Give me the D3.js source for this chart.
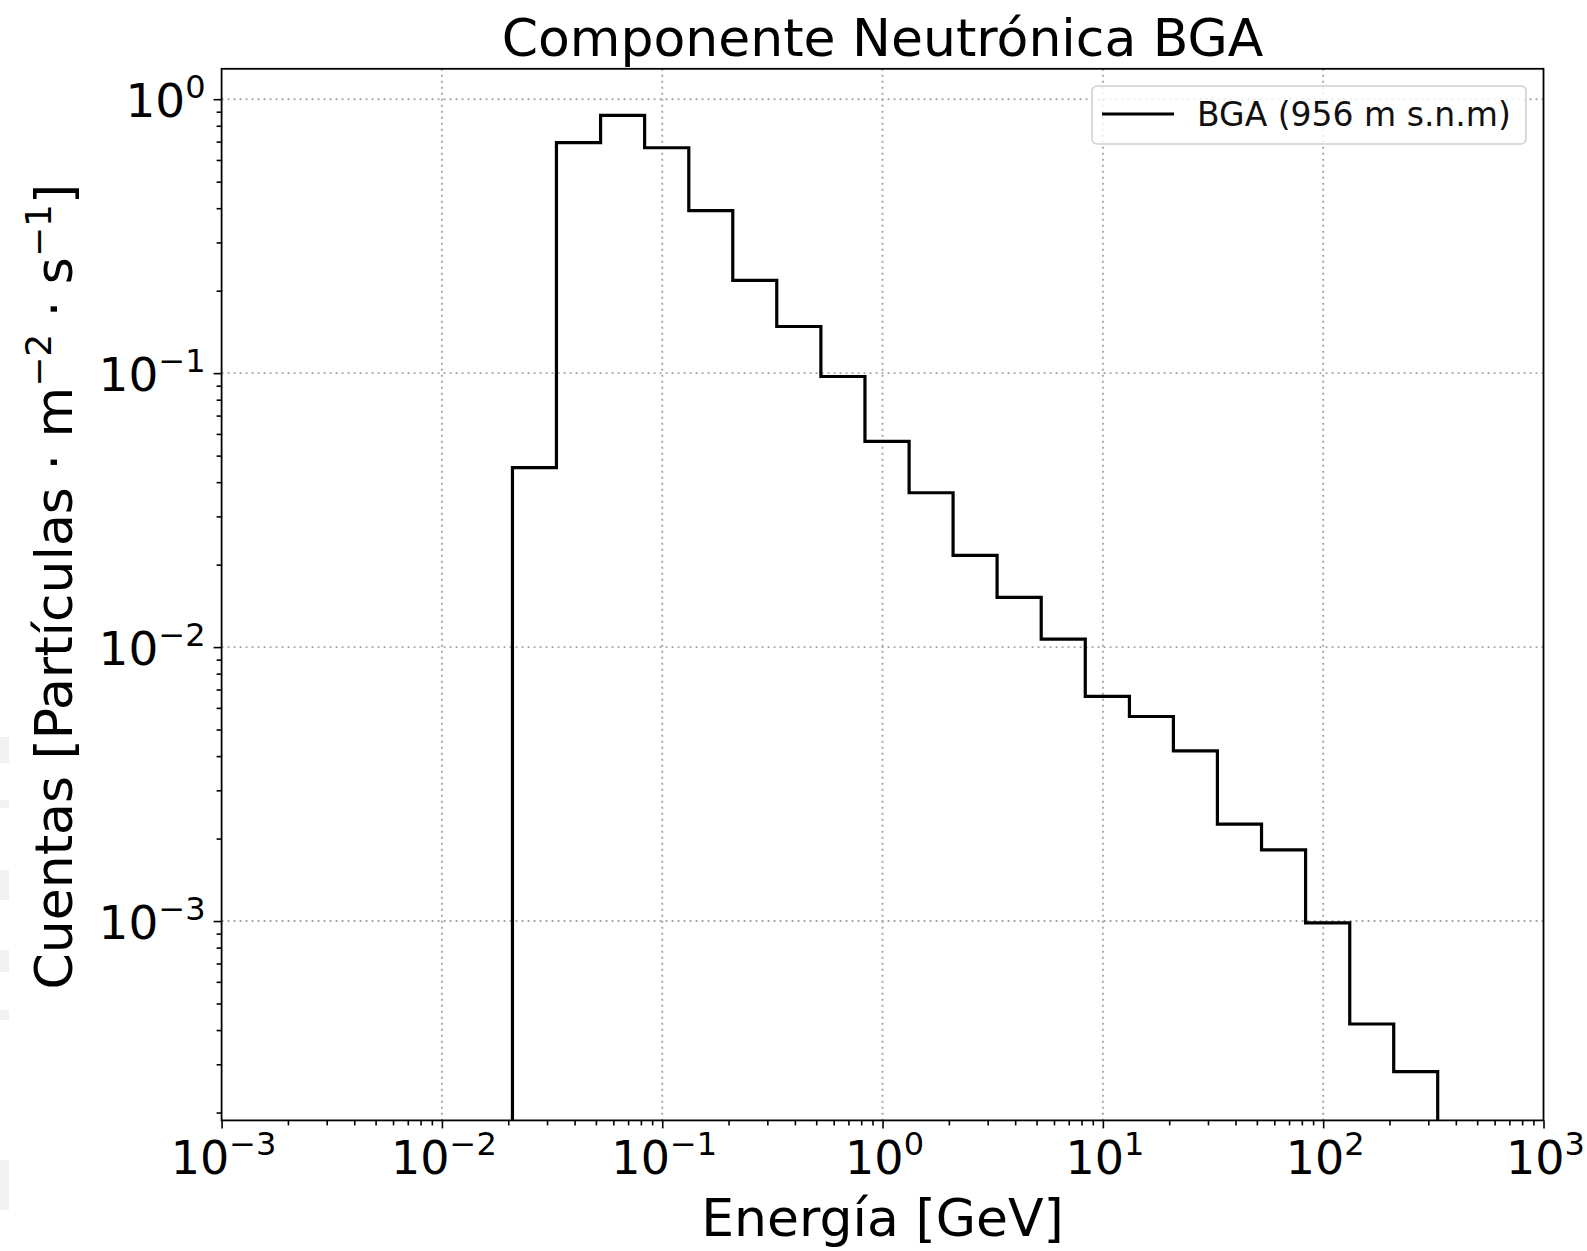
<!DOCTYPE html>
<html>
<head>
<meta charset="utf-8">
<script src="https://cdn.jsdelivr.net/npm/d3@7"></script>
<style>
    body { margin: 0; background: #fff; }
    svg { font-family: "DejaVu Sans", sans-serif; }
</style>
</head>
<body>
<svg id="chart" width="1587" height="1251"></svg>
<script>
// --- Données ---
const binEdges = [0.0209, 0.0331, 0.0525, 0.0832, 0.132, 0.209, 0.331, 0.525, 0.832, 1.32, 2.09,
    3.31, 5.25, 8.32, 13.2, 20.9, 33.1, 52.5, 83.2, 132, 209, 331];
const counts = [0.0452, 0.694, 0.873, 0.665, 0.392, 0.218, 0.148, 0.0972, 0.0564, 0.0366, 0.0216,
    0.0152, 0.0107, 0.00661, 0.00558, 0.00418, 0.00226, 0.00182, 0.000984, 0.000421, 0.000282];
const xTickExps = [-3, -2, -1, 0, 1, 2, 3];
const yTickExps = [0, -1, -2, -3];
const seriesLabel = "BGA (956 m s.n.m)";
const title = "Componente Neutrónica BGA";

// --- Géométrie ---
const svg = d3.select("#chart");
const plotL = 221.6, plotR = 1543.5, plotT = 68.8, plotB = 1120.4;

const x = d3.scaleLog().domain([1e-3, 1e3]).range([plotL, plotR]);
const y = d3.scaleLog().domain([1.872e-4, 1.291]).range([plotB, plotT]);

// Ticks mineurs 2..9 x 10^k
function minors(lo, hi) {
    const out = [];
    for (let k = Math.floor(Math.log10(lo)); k <= Math.ceil(Math.log10(hi)); k++) {
        for (let m = 2; m <= 9; m++) {
            const v = m * Math.pow(10, k);
            if (v > lo && v < hi) out.push(v);
        }
    }
    return out;
}

// Traces grises sur le bord gauche (artefact du scan)
svg.append("g").attr("fill", "#f1f1f1")
    .selectAll("rect").data([[737, 26], [800, 8], [870, 30], [950, 22], [1010, 10], [1160, 50]])
    .join("rect")
    .attr("x", 0).attr("width", 9).attr("y", d => d[0]).attr("height", d => d[1]);

// Grille pointillée
const grid = svg.append("g").attr("class", "grid")
    .attr("stroke", "#a4a4a4").attr("stroke-width", 1.9).attr("stroke-dasharray", "1.9,4.1");
grid.selectAll("line.gx").data(xTickExps.slice(1, -1)).join("line")
    .attr("x1", d => x(Math.pow(10, d))).attr("x2", d => x(Math.pow(10, d)))
    .attr("y1", plotT).attr("y2", plotB);
grid.selectAll("line.gy").data(yTickExps).join("line")
    .attr("y1", d => y(Math.pow(10, d))).attr("y2", d => y(Math.pow(10, d)))
    .attr("x1", plotL).attr("x2", plotR);

// Axes (ticks seulement, le cadre est dessiné à part)
svg.append("g").attr("transform", `translate(0,${plotB})`)
    .call(d3.axisBottom(x).tickValues(xTickExps.map(e => Math.pow(10, e))).tickFormat("").tickSize(8).tickSizeOuter(0));
svg.append("g").attr("transform", `translate(0,${plotB})`)
    .call(d3.axisBottom(x).tickValues(minors(1e-3, 1e3)).tickFormat("").tickSize(5).tickSizeOuter(0));
svg.append("g").attr("transform", `translate(${plotL},0)`)
    .call(d3.axisLeft(y).tickValues(yTickExps.map(e => Math.pow(10, e))).tickFormat("").tickSize(8).tickSizeOuter(0));
svg.append("g").attr("transform", `translate(${plotL},0)`)
    .call(d3.axisLeft(y).tickValues(minors(1.872e-4, 1.291)).tickFormat("").tickSize(5).tickSizeOuter(0));
svg.selectAll(".domain").remove();
svg.selectAll(".tick line").attr("stroke", "#000").attr("stroke-width", 1.6);

// Étiquettes 10^n avec exposant
function powerLabel(sel, exp) {
    sel.append("tspan").text("10");
    sel.append("tspan").attr("dy", -19).attr("font-size", 32)
        .text(exp < 0 ? "\u2212" + Math.abs(exp) : String(exp));
}

xTickExps.forEach(e => {
    const t = svg.append("text")
        .attr("x", x(Math.pow(10, e)) + 2).attr("y", plotB + 54)
        .attr("text-anchor", "middle").attr("font-size", 46).attr("fill", "#000");
    powerLabel(t, e);
});
yTickExps.forEach(e => {
    const t = svg.append("text")
        .attr("x", plotL - 16).attr("y", y(Math.pow(10, e)) + 18)
        .attr("text-anchor", "end").attr("font-size", 47).attr("fill", "#000");
    powerLabel(t, e);
});

// Histogramme en escalier
const pts = [[binEdges[0], null]];
counts.forEach((c, i) => {
    pts.push([binEdges[i], c]);
    pts.push([binEdges[i + 1], c]);
});
pts.push([binEdges[binEdges.length - 1], null]);

svg.append("path")
    .datum(pts)
    .attr("fill", "none").attr("stroke", "#000").attr("stroke-width", 3.2)
    .attr("stroke-linejoin", "miter")
    .attr("d", d3.line().x(d => x(d[0])).y(d => d[1] === null ? plotB : y(d[1])));

// Cadre
svg.append("rect")
    .attr("x", plotL).attr("y", plotT).attr("width", plotR - plotL).attr("height", plotB - plotT)
    .attr("fill", "none").attr("stroke", "#000").attr("stroke-width", 1.8);

// Légende
const legend = svg.append("g");
legend.append("rect")
    .attr("x", 1092).attr("y", 86).attr("width", 434).attr("height", 58).attr("rx", 5)
    .attr("fill", "#fff").attr("fill-opacity", 0.8).attr("stroke", "#d0d0d0").attr("stroke-width", 1.6);
legend.append("line")
    .attr("x1", 1102).attr("x2", 1174).attr("y1", 114).attr("y2", 114)
    .attr("stroke", "#000").attr("stroke-width", 3);
legend.append("text")
    .attr("x", 1197).attr("y", 126).attr("font-size", 33).attr("fill", "#111")
    .text(seriesLabel);

// Titre et libellés des axes
svg.append("text")
    .attr("x", (plotL + plotR) / 2).attr("y", 56)
    .attr("text-anchor", "middle").attr("font-size", 52)
    .text(title);

svg.append("text")
    .attr("x", (plotL + plotR) / 2).attr("y", 1236)
    .attr("text-anchor", "middle").attr("font-size", 52)
    .text("Energía [GeV]");

const yl = svg.append("text")
    .attr("transform", `translate(72,${(plotT + plotB) / 2 - 8}) rotate(-90)`)
    .attr("text-anchor", "middle").attr("font-size", 52);
yl.append("tspan").text("Cuentas [Partículas \u00b7 m");
yl.append("tspan").attr("dy", -21).attr("font-size", 36).text("\u22122");
yl.append("tspan").attr("dy", 21).text(" \u00b7 s");
yl.append("tspan").attr("dy", -21).attr("font-size", 36).text("\u22121");
yl.append("tspan").attr("dy", 21).text("]");
</script>
</body>
</html>
